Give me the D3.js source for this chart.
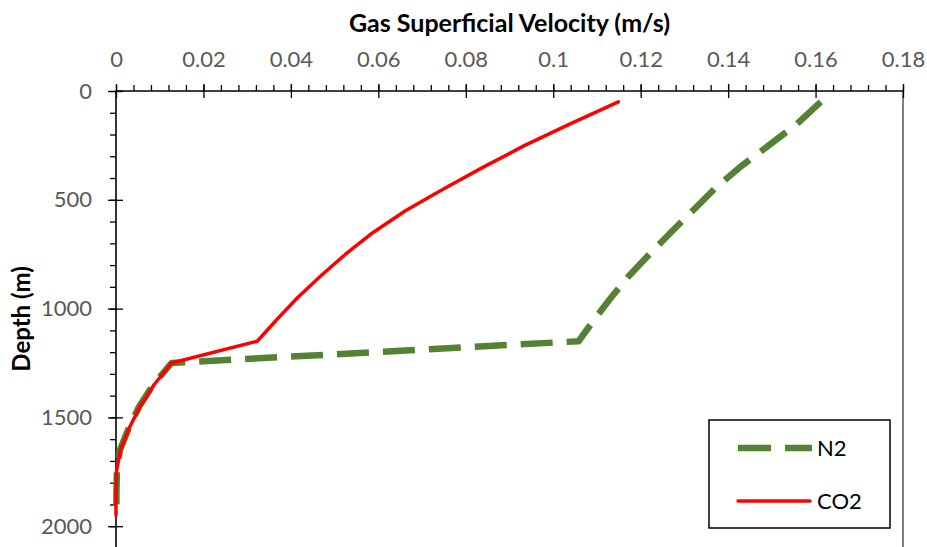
<!DOCTYPE html>
<html>
<head>
<meta charset="utf-8">
<script src="https://cdn.jsdelivr.net/npm/d3@7"></script>
<style>
  body { margin: 0; background: #fff; }
  text { font-family: Lato, "Open Sans", sans-serif; }
</style>
</head>
<body>
<div id="chart"></div>
<script>
// Data (depth in m, velocity in m/s)
const depths = [50, 150, 250, 350, 450, 550, 650, 750, 850, 950, 1050, 1150,
                1250, 1350, 1450, 1550, 1650, 1750, 1850, 1950];
const n2Velocity = [0.1612, 0.1558, 0.1493, 0.1427, 0.1369, 0.1319, 0.1269, 0.1220,
                    0.1173, 0.1132, 0.1094, 0.1058, 0.0127, 0.0085, 0.0053, 0.0029,
                    0.0009, 0.0002, 0.0001, 0.0001];
const co2Velocity = [0.1149, 0.1040, 0.0935, 0.0840, 0.0749, 0.0662, 0.0588, 0.0525,
                     0.0468, 0.0415, 0.0368, 0.0323, 0.0127, 0.0087, 0.0055, 0.0030,
                     0.0010, 0.0001, 0.0000, 0.0000];
const xTicks = [0, 0.02, 0.04, 0.06, 0.08, 0.1, 0.12, 0.14, 0.16, 0.18];
const yTicks = [0, 500, 1000, 1500, 2000];
const seriesNames = ["N2", "CO2"];

const W = 927, H = 547;
const margin = { top: 91, left: 116, right: 24 };
const plotW = W - margin.left - margin.right;   // 787
const plotH = 544;                               // 0..2500, runs past the bottom edge

const svg = d3.select("#chart").append("svg")
    .attr("width", W)
    .attr("height", H);

const g = svg.append("g")
    .attr("transform", `translate(${margin.left}, ${margin.top})`);

const x = d3.scaleLinear().domain([0, 0.18]).range([0, plotW]);
const y = d3.scaleLinear().domain([0, 2500]).range([0, plotH]);

// Right border of the plot area
g.append("line")
    .attr("x1", plotW).attr("x2", plotW)
    .attr("y1", 0).attr("y2", plotH)
    .attr("stroke", "#000").attr("stroke-width", 1);

// Minor ticks
const xMinor = d3.range(0, 0.1801, 0.004);
g.append("g")
    .call(d3.axisTop(x).tickValues(xMinor).tickSize(6).tickFormat(""))
    .call(s => s.select(".domain").remove())
    .selectAll("line").attr("stroke-width", 1.3);

const yMinor = d3.range(0, 2501, 100);
g.append("g")
    .call(d3.axisLeft(y).tickValues(yMinor).tickSize(6).tickFormat(""))
    .call(s => s.select(".domain").remove())
    .selectAll("line").attr("stroke-width", 1.3);

// X axis on top
const xAxis = g.append("g")
    .call(d3.axisTop(x).tickValues(xTicks).tickSize(7)
        .tickFormat(d => d3.format("~g")(d)));
xAxis.select(".domain").attr("stroke-width", 1.6).attr("d", `M0,0H${plotW}`);
xAxis.selectAll(".tick line").attr("y2", -7).attr("y1", 7).attr("stroke-width", 1.3);
xAxis.selectAll(".tick text")
    .attr("y", -24)
    .attr("dy", 0)
    .style("font-size", "22px")
    .attr("fill", "#595959");

// Y axis on the left
const yAxis = g.append("g")
    .call(d3.axisLeft(y).tickValues(yTicks).tickSize(8).tickFormat(d3.format("d")));
yAxis.select(".domain").attr("stroke-width", 1.6).attr("d", `M0,0V${plotH}`);
yAxis.selectAll(".tick line").attr("x2", -8).attr("x1", 7).attr("stroke-width", 1.3);
yAxis.selectAll(".tick text")
    .attr("x", -24)
    .style("font-size", "22px")
    .attr("fill", "#595959");

// Axis titles
svg.append("text")
    .attr("x", margin.left + plotW / 2)
    .attr("y", 32)
    .attr("text-anchor", "middle")
    .style("font-size", "25px")
    .style("font-weight", "bold")
    .text("Gas Superficial Velocity (m/s)");

svg.append("text")
    .attr("transform", "translate(30, 319) rotate(-90)")
    .attr("text-anchor", "middle")
    .style("font-size", "24px")
    .style("font-weight", "bold")
    .text("Depth (m)");

// Lines
const line = d3.line()
    .x(d => x(d[0]))
    .y(d => y(d[1]));

const n2Data = depths.map((d, i) => [n2Velocity[i], d]);
const co2Data = depths.map((d, i) => [co2Velocity[i], d]);

const styles = {
    N2: { color: "#548235", width: 6.5, dash: "32,14" },
    CO2: { color: "#FF0000", width: 3.5, dash: null }
};

g.append("path")
    .datum(n2Data)
    .attr("fill", "none")
    .attr("stroke", styles.N2.color)
    .attr("stroke-width", styles.N2.width)
    .attr("stroke-dasharray", styles.N2.dash)
    .attr("stroke-linejoin", "round")
    .attr("d", line);

g.append("path")
    .datum(co2Data)
    .attr("fill", "none")
    .attr("stroke", styles.CO2.color)
    .attr("stroke-width", styles.CO2.width)
    .attr("stroke-linejoin", "round")
    .attr("stroke-linecap", "round")
    .attr("d", line);

// Legend
const legend = svg.append("g").attr("transform", "translate(709, 420)");
legend.append("rect")
    .attr("width", 181).attr("height", 108)
    .attr("fill", "#fff")
    .attr("stroke", "#000").attr("stroke-width", 1.5);

seriesNames.forEach((name, i) => {
    const st = styles[name];
    const row = legend.append("g").attr("transform", `translate(0, ${28 + i * 53})`);
    row.append("line")
        .attr("x1", 29).attr("x2", name === "N2" ? 103 : 101)
        .attr("y1", 0).attr("y2", 0)
        .attr("stroke", st.color)
        .attr("stroke-width", st.width)
        .attr("stroke-dasharray", name === "N2" ? "33,14" : null)
        .attr("stroke-linecap", name === "N2" ? "butt" : "round");
    row.append("text")
        .attr("x", 108)
        .attr("y", 0)
        .attr("dy", "0.36em")
        .style("font-size", "22px")
        .attr("fill", "#000")
        .text(name);
});
</script>
</body>
</html>
